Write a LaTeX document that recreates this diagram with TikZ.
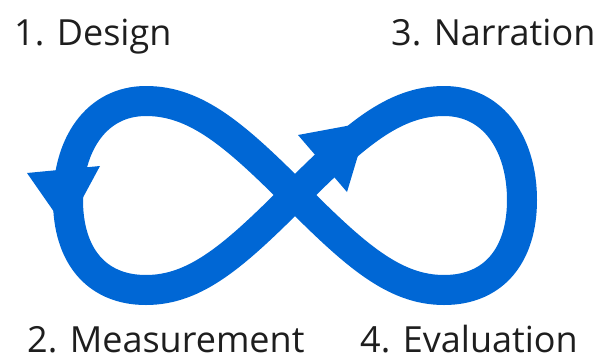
\documentclass[tikz,border=0pt]{standalone}
\usepackage{fontspec}
\setmainfont{Open Sans}
\definecolor{loopblue}{HTML}{0067D5}
\definecolor{labelgray}{HTML}{1E1E1E}
\tikzset{
  loopline/.style={draw=loopblue, line width=30pt, line join=round},
  loophead/.style={fill=loopblue, draw=none},
  steplabel/.style={anchor=base west, inner sep=0pt, text=labelgray, font=\fontsize{36}{42}\selectfont}
}
\begin{document}
\begin{tikzpicture}[x=1pt, y=-1pt]
\useasboundingbox (0,0) rectangle (598,360);
\coordinate (C) at (295,195);
\coordinate (LT) at (146,101);
\coordinate (LL) at (68,200);
\coordinate (LB) at (146,290);
\coordinate (RT) at (444,101);
\coordinate (RR) at (522,200);
\coordinate (RB) at (444,290);
\draw[loopline] (C) .. controls (235,135) and (196,101) .. (LT)
  .. controls (96,101) and (68,145) .. (LL)
  .. controls (68,255) and (96,290) .. (LB)
  .. controls (196,290) and (235,255) .. (C)
  .. controls (355,135) and (394,101) .. (RT)
  .. controls (494,101) and (522,145) .. (RR)
  .. controls (522,255) and (494,290) .. (RB)
  .. controls (394,290) and (355,255) .. (C) -- cycle;
\fill[loophead] (27,173) -- (100,166) -- (66,229) -- cycle;
\fill[loophead] (298,135) -- (347,192) -- (368,122) -- cycle;
\node[steplabel] (design) at (14,45) {1. Design};
\node[steplabel] (narration) at (391,45) {3. Narration};
\node[steplabel] (measurement) at (27,352) {2. Measurement};
\node[steplabel] (evaluation) at (360,352) {4. Evaluation};
\end{tikzpicture}
\end{document}
